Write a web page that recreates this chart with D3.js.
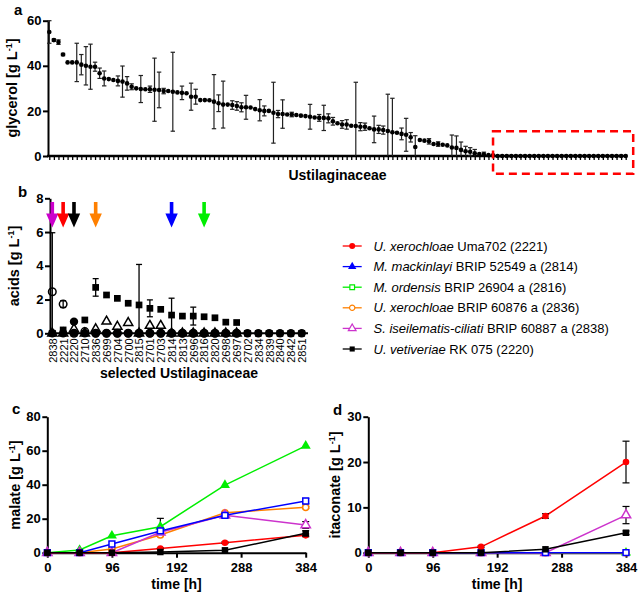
<!DOCTYPE html>
<html><head><meta charset="utf-8">
<script src="https://cdn.jsdelivr.net/npm/d3@7"></script>
<style>body{margin:0;background:#fff} svg text{font-family:"Liberation Sans",Arial,sans-serif}</style>
</head><body><svg id="fig" width="638" height="596"></svg>
<script>
// ---------- Panel a: glycerol of Ustilaginaceae strains (sorted) ----------
const glycerolMean = [55,51.4,50.5,45,41.5,41.5,41.5,40.5,40,39.6,39.6,36.7,34.4,34.1,33.7,33.3,33,32.2,30.7,30,29.7,29.6,29.6,29.4,29.3,28.8,28.8,28.5,28.2,28,27.8,26.3,26.3,24.8,24.8,24.7,24.1,23.4,22.8,22.8,22.6,22.2,21.6,21.6,21.5,20.8,20.3,20,20,19.2,18.6,18.6,18.4,18.4,18.2,17.9,17.7,17.4,17.1,16.9,16.9,16.7,15.4,14.5,14,14,13.4,13.3,13,13,12.3,11.8,11.8,11.5,11.1,10.5,10.3,9.8,9.4,8.3,4.0,7.1,6.8,6.5,5.3,5.3,5.0,4.7,3.8,3.6,2.7,2.1,1.9,1.2,0.9,0.7,0.4,0.3,
  0,0,0,0,0,0,0,0,0,0,0,0,0,0,0,0,0,0,0,0,0,0,0,0,0,0,0,0,0];
const glycerolSD = [5,0.5,1,0.5,0,0,8.5,4.5,8.5,10,2,2.3,3.3,0,0,2.2,6.9,3,1.3,0,6,0,1.4,14,7.9,1.2,0,17.5,0,3,0,6,3.3,0,0,0,12,3.7,10.4,0,1.9,1.9,2,5.3,0,0,4.7,2.2,0,13.5,1.6,6.3,0,1,0,0,0,5.5,0,1.5,5.6,2,1.7,0,1.7,2.1,0,19.4,1.8,1.6,0,5.9,1.8,1.8,16.3,15.1,0,2.6,7.3,2.1,5,0,0,1.2,0,1,0,0,5.5,5.3,3.5,2.2,1.8,1.7,0,1,0,0,
  0,0,0,0,0,0,0,0,0,0,0,0,0,0,0,0,0,0,0,0,0,0,0,0,0,0,0,0,0];
const strainsA = glycerolMean.map((d, i) => "strain" + (i + 1));
const glycerolTicks = [0, 20, 40, 60];
const zeroGroupStart = 97; // first strain of the highlighted (zero glycerol) group

// ---------- Panel b: acids of selected strains ----------
const strainsB = ["2838","2221","2220","2710","2836","2699","2704","2700","2815","2701","2703","2814","2813","2696","2816","2820","2698","2697","2702","2834","2839","2840","2842","2851"];
const acidSquare   = [0,0.2,0,0.79,2.72,2.27,2.07,1.78,1.68,1.48,1.42,1.08,1.02,1.02,0.98,0.92,0.66,0.64,0,0,0,0,0,0];
const acidSquareSD = [0,0,0,0,0.52,0,0,0,2.4,0.5,0,1.0,0,0.53,0,0,0,0,0,0,0,0,0,0];
const acidCircle   = [2.46,1.73,0,0.1,0,0,0,0,0,0,0,0,0,0,0,0,0,0,null,null,null,null,null,null];
const acidCircleSD = [3.5,0.2,0,0,0,0,0,0,0,0,0,0,0,0,0,0,0,0,0,0,0,0,0,0];
const acidTriangle = [0,0,0.25,0,0.25,0.7,0.4,0.62,0,0.45,0.45,0,0,0,0,0,0,0,null,null,null,null,null,null];
const acidDot      = [0,0,0.69,0,0,0,0,0,0,0,0,0,0,0,0,0,0,0,0,0,0,0,0,0];
const acidTicks = [0, 2, 4, 6, 8];
const arrowStrains = ["2838","2221","2220","2836","2814","2816"];
const arrowColors  = ["#cc00cc","#ff0000","#000000","#ff8000","#0000ff","#00ee00"];

// ---------- Panels c, d: time courses ----------
const timeH = [0, 48, 96, 168, 264, 384];
const timeTicks = [0, 96, 192, 288, 384];
const speciesItalic = ["U. xerochloae","M. mackinlayi","M. ordensis","U. xerochloae","S. iseilematis-ciliati","U. vetiveriae"];
const speciesRest   = [" Uma702 (2221)"," BRIP 52549 a (2814)"," BRIP 26904 a (2816)"," BRIP 60876 a (2836)"," BRIP 60887 a (2838)"," RK 075 (2220)"];
const seriesColors  = ["#ff0000","#0000ff","#00ee00","#ff8000","#cc33cc","#000000"];
const malate = [
  [0,0,0,2.5,5.9,10.2],
  [0,0,5.1,12.8,22,30.4],
  [0,1.6,10,15.3,39.8,62.8],
  [0,0,2.2,10.4,23.5,26.7],
  [0,0,0,12,22,16.3],
  [0,0,0,0.4,1.4,11.4]];
const malateSD = [
  [0,0,0,0.3,0.5,0.8],
  [0,0,0,0.8,1,1.5],
  [0,0,0,4.9,0,0],
  [0,0,0,0.6,0,0.6],
  [0,0,0,0,0,2],
  [0,0,0,0,0,1.5]];
const itaconate = [
  [0,0,0,1.3,8.1,20],
  [0,0,0,0,0,0],
  [0,0,0,0,0,0],
  [0,0,0,0,0,0],
  [0,0,0,0,0,8.3],
  [0,0,0,0,0.75,4.4]];
const itaconateSD = [
  [0,0,0,0.2,0.5,4.6],
  [0,0,0,0,0,0],
  [0,0,0,0,0,0],
  [0,0,0,0,0,0],
  [0,0,0,0,0,1.9],
  [0,0,0,0,0,0.4]];
const malateTicks = [0,20,40,60,80];
const itaconateTicks = [0,10,20,30];

// ================= drawing =================
const svg = d3.select("#fig");
const FONT = '"Liberation Sans",Arial,sans-serif';

function styleAxis(g, labelSize) {
  g.select("path.domain").attr("stroke","#000").attr("stroke-width",2);
  g.selectAll(".tick line").attr("stroke","#000").attr("stroke-width",2);
  g.selectAll(".tick text").attr("font-family",FONT).attr("font-weight","bold")
    .attr("font-size",labelSize||13).attr("fill","#000");
}
function yTitle(x, y, main) {
  const t = svg.append("text").attr("transform",`translate(${x},${y}) rotate(-90)`)
    .attr("text-anchor","middle").attr("font-weight","bold").attr("font-size",14.5).attr("fill","#000");
  t.append("tspan").text(main + " [g L");
  t.append("tspan").attr("dy",-5).attr("font-size",9).text("-1");
  t.append("tspan").attr("dy",5).text("]");
}
function label(x, y, s) {
  svg.append("text").attr("x",x).attr("y",y).attr("font-weight","bold").attr("font-size",15).text(s);
}
function sym(type, size) { return d3.symbol().type(type).size(size)(); }

// ----- Panel a -----
{
  const x = d3.scalePoint().domain(strainsA).range([49.3, 625.7]);
  const y = d3.scaleLinear().domain([0,60]).range([156, 20.7]).clamp(true);
  const gy = svg.append("g").attr("transform",`translate(48,0)`)
    .call(d3.axisLeft(y).tickValues(glycerolTicks).tickSize(5).tickPadding(1.5).tickSizeOuter(0));
  styleAxis(gy);
  const gx = svg.append("g").attr("transform",`translate(0,${y(0)})`)
    .call(d3.axisBottom(x).tickSize(4).tickFormat(""));
  gx.select("path.domain").remove();
  gx.selectAll(".tick line").attr("stroke","#000").attr("stroke-width",1.3);
  svg.append("line").attr("x1",47).attr("x2",x.range()[1]+1.5).attr("y1",y(0)).attr("y2",y(0))
    .attr("stroke","#000").attr("stroke-width",2.5);
  const eb = svg.append("g").attr("stroke","#222").attr("stroke-width",1.2);
  strainsA.forEach((s,i) => {
    const sd = glycerolSD[i]; if (!sd) return;
    const cx = x(s), y1 = y(glycerolMean[i]+sd), y2 = y(glycerolMean[i]-sd);
    eb.append("line").attr("x1",cx).attr("x2",cx).attr("y1",y1).attr("y2",y2);
    eb.append("line").attr("x1",cx-2.2).attr("x2",cx+2.2).attr("y1",y1).attr("y2",y1);
    if (glycerolMean[i]-sd > 0) eb.append("line").attr("x1",cx-2.2).attr("x2",cx+2.2).attr("y1",y2).attr("y2",y2);
  });
  svg.append("g").selectAll("circle").data(strainsA).join("circle")
    .attr("cx",d=>x(d)).attr("cy",(d,i)=>y(glycerolMean[i])).attr("r",2.3).attr("fill","#000");
  // highlighted box
  svg.append("rect").attr("x",x(strainsA[zeroGroupStart])).attr("y",y(11))
    .attr("width",x.range()[1]+7.5-x(strainsA[zeroGroupStart])).attr("height",42.5)
    .attr("fill","none").attr("stroke","#ff0000").attr("stroke-width",2.5).attr("stroke-dasharray","8,5");
  svg.append("text").attr("x",337.5).attr("y",180).attr("text-anchor","middle")
    .attr("font-weight","bold").attr("font-size",14).text("Ustilaginaceae");
  yTitle(17, 88, "glycerol");
  label(14, 15, "a");
}

// ----- Panel b -----
{
  const x = d3.scalePoint().domain(strainsB).range([52.3, 301.7]);
  const y = d3.scaleLinear().domain([0,8]).range([333.3, 198.3]).clamp(true);
  const gy = svg.append("g").attr("transform",`translate(50,0)`)
    .call(d3.axisLeft(y).tickValues(acidTicks).tickSize(5).tickPadding(1.5).tickSizeOuter(0));
  styleAxis(gy);
  const gx = svg.append("g").attr("transform",`translate(0,${y(0)})`)
    .call(d3.axisBottom(x).tickSize(3).tickPadding(3));
  gx.select("path.domain").remove();
  gx.selectAll(".tick line").attr("stroke","#000").attr("stroke-width",1.3);
  gx.selectAll(".tick text").attr("font-family",FONT).attr("font-size",11).attr("fill","#000")
    .attr("transform","rotate(-90)").attr("text-anchor","end").attr("x",-5).attr("y",0).attr("dy","0.35em");
  svg.append("line").attr("x1",49).attr("x2",308).attr("y1",y(0)).attr("y2",y(0))
    .attr("stroke","#000").attr("stroke-width",2);
  const eb = svg.append("g").attr("stroke","#000").attr("stroke-width",1.3);
  function errs(vals, sds) {
    strainsB.forEach((s,i) => {
      const sd = sds[i]; if (!sd || vals[i]==null) return;
      const cx = x(s), y1 = y(vals[i]+sd), y2 = y(vals[i]-sd);
      eb.append("line").attr("x1",cx).attr("x2",cx).attr("y1",y1).attr("y2",y2);
      eb.append("line").attr("x1",cx-3).attr("x2",cx+3).attr("y1",y1).attr("y2",y1);
      if (vals[i]-sd > 0) eb.append("line").attr("x1",cx-3).attr("x2",cx+3).attr("y1",y2).attr("y2",y2);
    });
  }
  errs(acidSquare, acidSquareSD); errs(acidCircle, acidCircleSD);
  function pts(vals, type, size, filled) {
    svg.append("g").selectAll("path").data(strainsB.map((s,i)=>[s,vals[i]]).filter(d=>d[1]!=null)).join("path")
      .attr("d", sym(type,size)).attr("transform",d=>`translate(${x(d[0])},${y(d[1])})`)
      .attr("fill", filled ? "#000" : "none").attr("stroke","#000").attr("stroke-width", filled?0:1.5);
  }
  pts(acidDot, d3.symbolCircle, 55, true);
  pts(acidSquare, d3.symbolSquare, 45, true);
  pts(acidTriangle, d3.symbolTriangle, 36, false);
  pts(acidCircle, d3.symbolCircle, 45, false);
  // arrows
  const ag = svg.append("g");
  arrowStrains.forEach((s,i) => {
    const cx = x(s);
    ag.append("path").attr("fill",arrowColors[i])
      .attr("d",`M${cx-1.8},202 L${cx+1.8},202 L${cx+1.8},213.5 L${cx+6.2},213.5 L${cx},227.5 L${cx-6.2},213.5 L${cx-1.8},213.5 Z`);
  });
  svg.append("text").attr("x",179).attr("y",377.5).attr("text-anchor","middle")
    .attr("font-weight","bold").attr("font-size",14).text("selected Ustilaginaceae");
  yTitle(19, 266, "acids");
  label(18, 197, "b");
}

// ----- Legend -----
{
  const lg = svg.append("g");
  const legSyms = [[d3.symbolCircle,28,true],[d3.symbolTriangle,30,true],[d3.symbolSquare,22,false],[d3.symbolCircle,22,false],[d3.symbolTriangle,26,false],[d3.symbolSquare,26,true]];
  speciesItalic.forEach((sp,i) => {
    const yy = 246 + i*20.6;
    lg.append("line").attr("x1",342.7).attr("x2",361.7).attr("y1",yy).attr("y2",yy)
      .attr("stroke",seriesColors[i]).attr("stroke-width",1.3);
    const [t,sz,f] = legSyms[i];
    lg.append("path").attr("d",sym(t,sz)).attr("transform",`translate(352.2,${yy})`)
      .attr("fill",f?seriesColors[i]:"#fff").attr("stroke",seriesColors[i]).attr("stroke-width",f?0:1.2);
    const tx = lg.append("text").attr("x",373.5).attr("y",yy+4.5).attr("font-size",13).attr("fill","#000");
    tx.append("tspan").attr("font-style","italic").text(sp);
    tx.append("tspan").text(speciesRest[i]);
  });
}

// ----- Panels c and d -----
const plotSyms = [[d3.symbolCircle,34,true],[d3.symbolSquare,34,false],[d3.symbolTriangle,44,true],[d3.symbolCircle,30,false],[d3.symbolTriangle,38,false],[d3.symbolSquare,42,true]];
const drawOrder = [2,3,4,1,0,5];
function timePanel(x0, x1, ymax, ticks, data, sds, title, letter, lx, ly, titleX) {
  const x = d3.scaleLinear().domain([0,384]).range([x0,x1]);
  const y = d3.scaleLinear().domain([0,ymax]).range([552.7,416.7]).clamp(true);
  const gy = svg.append("g").attr("transform",`translate(${x0},0)`)
    .call(d3.axisLeft(y).tickValues(ticks).tickSize(5).tickPadding(1.5).tickSizeOuter(0));
  styleAxis(gy);
  const gx = svg.append("g").attr("transform",`translate(0,${y(0)})`)
    .call(d3.axisBottom(x).tickValues(timeTicks).tickSize(5).tickPadding(5).tickSizeOuter(0));
  styleAxis(gx);
  const line = d3.line().x((d,i)=>x(timeH[i])).y(d=>y(d));
  drawOrder.forEach(k => {
    const g = svg.append("g");
    g.append("path").datum(data[k]).attr("d",line).attr("fill","none")
      .attr("stroke",seriesColors[k]).attr("stroke-width",1.5);
    data[k].forEach((v,i) => {
      const sd = sds[k][i]; if (!sd) return;
      const cx = x(timeH[i]), y1 = y(v+sd), y2 = y(v-sd);
      g.append("line").attr("x1",cx).attr("x2",cx).attr("y1",y1).attr("y2",y2).attr("stroke","#000").attr("stroke-width",1.2);
      g.append("line").attr("x1",cx-3.5).attr("x2",cx+3.5).attr("y1",y1).attr("y2",y1).attr("stroke","#000").attr("stroke-width",1.2);
      g.append("line").attr("x1",cx-3.5).attr("x2",cx+3.5).attr("y1",y2).attr("y2",y2).attr("stroke","#000").attr("stroke-width",1.2);
    });
    const [t,sz,f] = plotSyms[k];
    g.selectAll("path.m").data(data[k]).join("path").attr("class","m")
      .attr("d",sym(t,sz)).attr("transform",(d,i)=>`translate(${x(timeH[i])},${y(d)})`)
      .attr("fill",f?seriesColors[k]:"#fff").attr("stroke",seriesColors[k]).attr("stroke-width",f?0:1.5);
  });
  yTitle(titleX, 485, title);
  svg.append("text").attr("x",(x0+x1)/2).attr("y",589).attr("text-anchor","middle")
    .attr("font-weight","bold").attr("font-size",14).text("time [h]");
  label(lx, ly, letter);
}
timePanel(47.3, 305.7, 80, malateTicks, malate, malateSD, "malate", "c", 12, 413.5, 20);
timePanel(368.3, 626, 30, itaconateTicks, itaconate, itaconateSD, "itaconate", "d", 333, 415, 340);
</script></body></html>
